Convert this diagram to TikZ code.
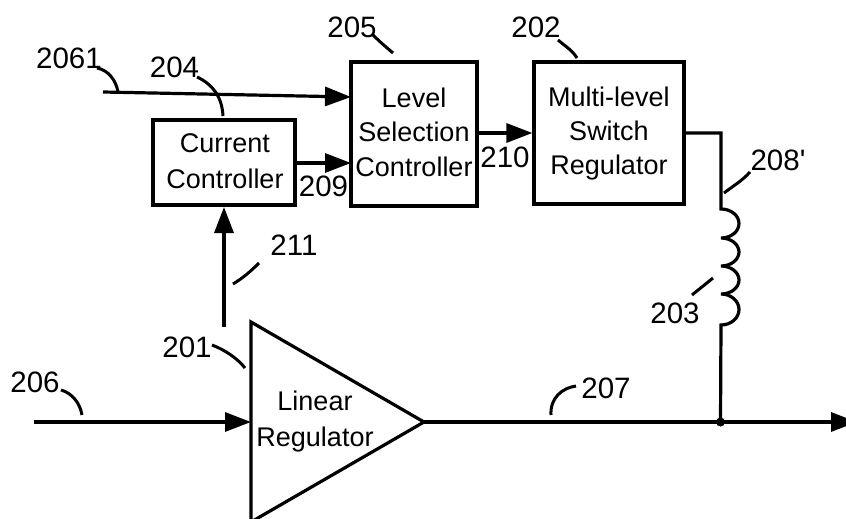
\documentclass[tikz,border=0pt]{standalone}
\usepackage{fontspec}
\setmainfont{Liberation Sans}
\newfontfamily\rawf{Liberation Sans}
\usetikzlibrary{arrows.meta}
\begin{document}
\begin{tikzpicture}[x=1pt,y=-1pt,
 line width=3.2pt,
 boxn/.style={draw,line width=3.2pt,inner sep=0pt},
 txt/.style={align=center,inner sep=0pt,font=\fontsize{27}{36}\selectfont},
 lab/.style={font=\fontsize{29.5}{30}\selectfont,inner sep=0pt},
 arr/.style={-{Triangle[length=26pt,width=19pt]}},
 lead/.style={line width=3pt}]
\useasboundingbox (0,0) rectangle (846,519);
\node[boxn,minimum width=142pt,minimum height=85pt] (cc) at (224,162.5) {};
\node[boxn,minimum width=126pt,minimum height=144pt] (lsc) at (414,134) {};
\node[boxn,minimum width=150pt,minimum height=142pt] (mls) at (609,133) {};
\node[txt] (cct) at (225,161) {Current\\Controller};
\node[txt,font=\fontsize{27}{34.5}\selectfont] (lst) at (414,132) {Level\\Selection\\Controller};
\node[txt,font=\fontsize{27}{34}\selectfont] (mlt) at (609,134) {Multi-level\\Switch\\Regulator};
\coordinate (t1) at (251,322);
\coordinate (t2) at (251,522);
\coordinate (t3) at (424,422);
\draw[line join=miter] (t1)--(t3)--(t2)--cycle;
\node[txt] (lr) at (315,422) {Linear\\Regulator};
\coordinate (in) at (34,422);
\coordinate (in2) at (103,92);
\coordinate (out) at (857,422);
\coordinate (fb) at (224,327);
\coordinate (lsin) at (351,97);
\coordinate (t) at (721,133);
\coordinate (j) at (720.5,422);
\coordinate (cci) at (224,207);
\coordinate (cco) at (295,163);
\coordinate (lsb) at (351,163);
\draw[arr] (in)--(t1|-in);
\draw[arr] (in2)--(lsin);
\draw[arr] (fb)--(cci);
\draw[arr] (cco)--(lsb);
\draw[arr] (lsc.east|-0,133)--(mls.west|-0,133);
\draw[arr] (t3)--(out);
\fill (j) circle (4.5pt);
\draw (mls.east|-t)--(t)--(721,209)
 arc[start angle=-90,end angle=90,x radius=18,y radius=14.5]
 arc[start angle=-90,end angle=90,x radius=18,y radius=14]
 arc[start angle=-90,end angle=90,x radius=18,y radius=14]
 arc[start angle=-90,end angle=90,x radius=18,y radius=15.5]--(j);
\node[lab] (a) at (69,58) {2061};
\node[lab] (b) at (174.5,67) {204};
\node[lab] (c) at (352,27) {205};
\node[lab] (d) at (536,27) {202};
\node[lab] (e) at (778,160) {208{\rawf '}};
\node[lab] (f) at (323.5,186) {209};
\node[lab] (g) at (505,157) {210};
\node[lab] (h) at (294,245) {211};
\node[lab] (i) at (187,347) {201};
\node[lab] (k) at (35,382) {206};
\node[lab] (l) at (606,388) {207};
\node[lab] (m) at (675,313) {203};
\draw[lead] (97,68) .. controls (108,70) and (116,80) .. (118,92);
\draw[lead] (197,77) .. controls (212,84) and (222,96) .. (223,116);
\draw[lead] (373,35) .. controls (380,42) and (386,47) .. (393,53);
\draw[lead] (558,40) .. controls (565,46) and (572,50) .. (577,58);
\draw[lead] (750,172) .. controls (742,181) and (733,186) .. (724,193);
\draw[lead] (233,284) .. controls (243,278) and (251,271) .. (259,263);
\draw[lead] (212,345) .. controls (225,350) and (237,358) .. (245,368);
\draw[lead] (61,390) .. controls (72,393) and (80,403) .. (82,415);
\draw[lead] (576,386) .. controls (562,388) and (550,398) .. (551,415);
\draw[lead] (692,295) -- (713,278);
\end{tikzpicture}
\end{document}
